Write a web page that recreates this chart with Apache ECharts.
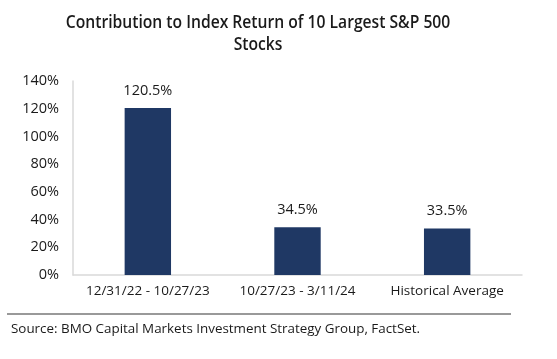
<!DOCTYPE html>
<html><head><meta charset="utf-8">
<script src="https://cdn.jsdelivr.net/npm/echarts@6/dist/echarts.min.js"></script>
<style>html,body{margin:0;padding:0;background:#fff}#c{width:557px;height:359px}</style>
</head><body><div id="c"></div>
<script>
var categories = ['12/31/22 - 10/27/23', '10/27/23 - 3/11/24', 'Historical Average'];
var values = [120.5, 34.5, 33.5];
var yTicks = [0, 20, 40, 60, 80, 100, 120, 140];
var titleLines = ['Contribution to Index Return of 10 Largest S&P 500', 'Stocks'];
var sourceText = 'Source: BMO Capital Markets Investment Strategy Group, FactSet.';

var FONT = '"Open Sans", "Noto Sans", sans-serif';
var chart = echarts.init(document.getElementById('c'));
chart.setOption({
  animation: false,
  textStyle: { fontFamily: FONT },
  title: [{
    text: sourceText, left: 6, top: 318,
    textStyle: { fontFamily: FONT, fontSize: 13.4, fontWeight: 'normal', color: '#1a1a1a' }
  }],
  graphic: [{
    type: 'text', x: 258, y: 23, scaleX: 0.87,
    style: { text: titleLines[0], textAlign: 'center', textVerticalAlign: 'middle',
      fontFamily: FONT, fontSize: 18, fontWeight: 600, fill: '#1a1a1a' }
  }, {
    type: 'text', x: 258, y: 45, scaleX: 0.87,
    style: { text: titleLines[1], textAlign: 'center', textVerticalAlign: 'middle',
      fontFamily: FONT, fontSize: 18, fontWeight: 600, fill: '#1a1a1a' }
  }, {
    type: 'line', shape: { x1: 7, y1: 314, x2: 511, y2: 314 },
    style: { stroke: '#777', lineWidth: 1.5 }
  }],
  grid: { left: 73, right: 35, top: 81, bottom: 84, containLabel: false },
  xAxis: {
    type: 'category', data: categories,
    axisLine: { lineStyle: { color: '#d9d9d9', width: 1.5 } },
    axisTick: { show: false },
    axisLabel: { color: '#1a1a1a', fontSize: 13.5, margin: 9, interval: 0, hideOverlap: false, fontFamily: FONT }
  },
  yAxis: {
    type: 'value', min: yTicks[0], max: yTicks[yTicks.length - 1], interval: 20,
    axisLine: { show: true, lineStyle: { color: '#d9d9d9', width: 1.5 } },
    axisTick: { show: false },
    splitLine: { show: false },
    axisLabel: { color: '#1a1a1a', fontSize: 14.5, margin: 14, formatter: '{value}%', fontFamily: FONT }
  },
  series: [{
    type: 'bar', data: values, barWidth: '31%',
    itemStyle: { color: '#1f3864' },
    label: { show: true, position: 'top', distance: 10, formatter: function (p) { return p.value.toFixed(1) + '%'; },
      color: '#1a1a1a', fontSize: 14.5, fontFamily: FONT }
  }]
});
</script></body></html>
